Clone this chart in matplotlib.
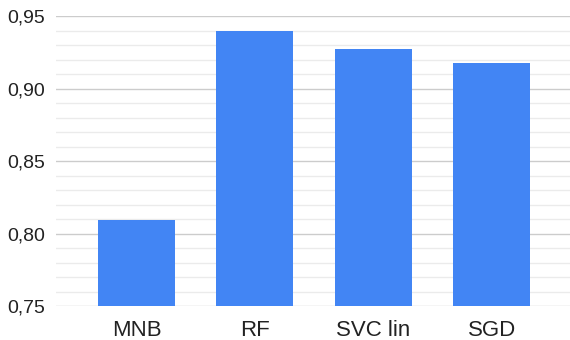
import matplotlib
matplotlib.use('Agg')
import matplotlib.pyplot as plt
from matplotlib.ticker import MultipleLocator, FuncFormatter

# accuracy per classifier
models = ['MNB', 'RF', 'SVC lin', 'SGD']
accuracy = [0.809, 0.940, 0.927, 0.9175]

plt.rcParams['font.family'] = ['Liberation Sans', 'DejaVu Sans']

fig = plt.figure(figsize=(5.7, 3.4), dpi=100)
ax = fig.add_axes([56/570, 34/340, 514/570, 290/340])

ax.bar(range(len(models)), accuracy, width=0.65, color='#4285f4', zorder=3)

ax.set_ylim(0.75, 0.95)
ax.set_xlim(-0.68, 3.66)
ax.yaxis.set_major_locator(MultipleLocator(0.05))
ax.yaxis.set_minor_locator(MultipleLocator(0.01))
ax.yaxis.set_major_formatter(FuncFormatter(lambda v, p: f'{v:.2f}'.replace('.', ',')))
ax.grid(axis='y', which='major', color='#cccccc', linewidth=1, zorder=0)
ax.grid(axis='y', which='minor', color='#ebebeb', linewidth=1, zorder=0)

ax.set_xticks(range(len(models)))
ax.set_xticklabels(models)
ax.tick_params(axis='both', which='both', length=0, labelcolor='#222222')
ax.tick_params(axis='y', labelsize=14, pad=8)
ax.tick_params(axis='x', labelsize=16, pad=10)

for s in ax.spines.values():
    s.set_visible(False)

fig.savefig('out.png', dpi=100)
